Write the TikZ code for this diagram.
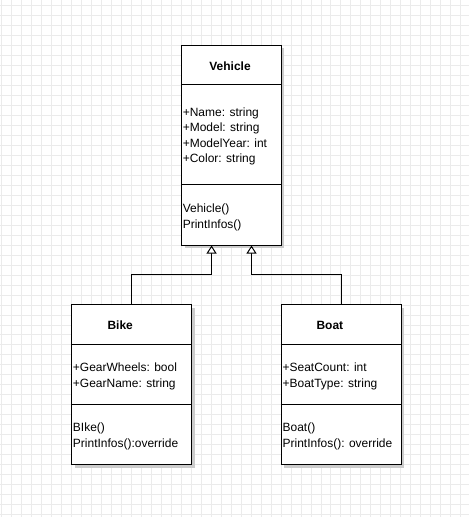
\documentclass[tikz,border=0pt]{standalone}
\usepackage{fontspec}
\setmainfont{Liberation Sans}
\usetikzlibrary{arrows.meta,shadows}

\begin{document}
\begin{tikzpicture}[x=1pt,y=-1pt]
	\tikzstyle{gridline}=[draw=black!8,line width=0.8pt];
	\tikzstyle{klass}=[draw,line width=1pt,fill=white,inner sep=0pt,drop shadow={shadow xshift=3pt,shadow yshift=-3pt,fill=black!20,opacity=1}];
	\tikzstyle{sep}=[line width=1pt];
	\tikzstyle{member}=[anchor=base west,inner sep=0pt,font=\fontsize{12}{14}\selectfont];
	\tikzstyle{title}=[anchor=base,inner sep=0pt,font=\fontsize{12}{14}\selectfont\bfseries];
	\tikzstyle{inherit}=[line width=1pt,-{Triangle[length=8pt,width=10pt,fill=white]}];

	% background grid
	\fill[white] (0,0) rectangle (469,517);
	\foreach \x in {1,11,...,461} \draw[gridline] (\x,0) -- (\x,517);
	\foreach \y in {5,15,...,515} \draw[gridline] (0,\y) -- (469,\y);
	\useasboundingbox (0,0) rectangle (469,517);

	% classes
	\node[klass,minimum width=100pt,minimum height=200pt] (vehicle) at (231.5,145) {};
	\node[klass,minimum width=120pt,minimum height=160pt] (bike)    at (131.5,385) {};
	\node[klass,minimum width=120pt,minimum height=160pt] (boat)    at (341.5,385) {};

	\draw[sep] ([yshift=-40pt]vehicle.north west) -- ([yshift=-40pt]vehicle.north east);
	\draw[sep] ([yshift=-140pt]vehicle.north west) -- ([yshift=-140pt]vehicle.north east);
	\draw[sep] ([yshift=-40pt]bike.north west) -- ([yshift=-40pt]bike.north east);
	\draw[sep] ([yshift=-100pt]bike.north west) -- ([yshift=-100pt]bike.north east);
	\draw[sep] ([yshift=-40pt]boat.north west) -- ([yshift=-40pt]boat.north east);
	\draw[sep] ([yshift=-100pt]boat.north west) -- ([yshift=-100pt]boat.north east);

	% Vehicle
	\node[title]  (vtitle) at (230,70)      {Vehicle};
	\node[member] (vname)  at (182.5,116)   {+Name: string};
	\node[member] (vmodel) at (182.5,131.5) {+Model: string};
	\node[member] (vyear)  at (182.5,147)   {+ModelYear: int};
	\node[member] (vcolor) at (182.5,162.5) {+Color: string};
	\node[member] (vctor)  at (182.5,212)   {Vehicle()};
	\node[member] (vprint) at (182.5,228)   {PrintInfos()};

	% Bike
	\node[title]  (btitle) at (120,329.5)  {Bike};
	\node[member] (bgears) at (72.5,372)   {+GearWheels: bool};
	\node[member] (bgname) at (72.5,388)   {+GearName: string};
	\node[member] (bctor)  at (72.5,432)   {BIke()};
	\node[member] (bprint) at (72.5,448)   {PrintInfos():override};

	% Boat
	\node[title]  (otitle) at (330,329.5)  {Boat};
	\node[member] (oseats) at (282.5,372)  {+SeatCount: int};
	\node[member] (otype)  at (282.5,388)  {+BoatType: string};
	\node[member] (octor)  at (282.5,432)  {Boat()};
	\node[member] (oprint) at (282.5,448)  {PrintInfos(): override};

	% inheritance
	\coordinate (vleft)  at ([xshift=-20pt]vehicle.south);
	\coordinate (vright) at ([xshift=20pt]vehicle.south);
	\draw[inherit] (bike.north) -- ++(0,-30) -| (vleft);
	\draw[inherit] (boat.north) -- ++(0,-30) -| (vright);
\end{tikzpicture}
\end{document}
